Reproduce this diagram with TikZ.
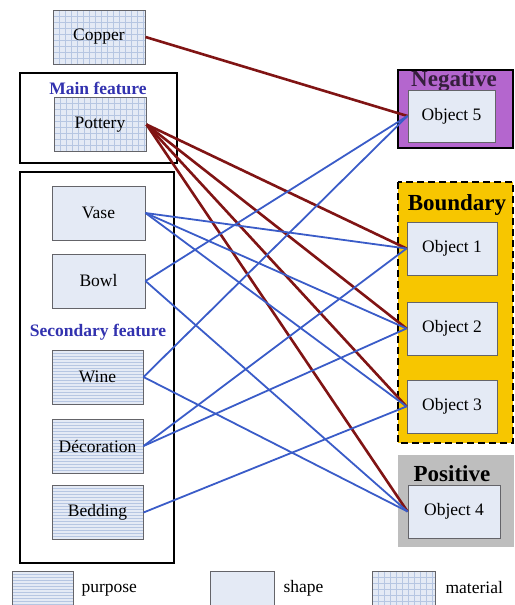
\documentclass[tikz,border=0pt]{standalone}
\usepackage{fontspec}
\setmainfont{Liberation Serif}
\usetikzlibrary{positioning}
\definecolor{boxfill}{RGB}{228,234,245}
\definecolor{boxline}{RGB}{100,100,105}
\definecolor{gridc}{RGB}{182,198,226}
\definecolor{linkred}{RGB}{128,20,20}
\definecolor{linkblue}{RGB}{58,92,200}
\definecolor{titleblue}{RGB}{50,50,175}
\definecolor{negfill}{RGB}{180,102,206}
\definecolor{bndfill}{RGB}{247,198,0}
\definecolor{posfill}{RGB}{190,190,190}
\tikzset{
  box/.style={draw=boxline,fill=boxfill,line width=1pt,minimum width=92pt,minimum height=54pt,
    inner sep=0pt,font=\fontsize{17.5}{19}\selectfont},
  material/.style={box,path picture={
      \foreach \k in {0,6,...,120} {
        \draw[gridc,line width=0.5pt] ([xshift=\k pt]path picture bounding box.south west) -- ++(0,80pt);
        \draw[gridc,line width=0.5pt] ([yshift=\k pt]path picture bounding box.south west) -- ++(120pt,0);
      }}},
  purpose/.style={box,path picture={
      \foreach \k in {0,3,...,80}
        \draw[gridc,line width=0.4pt] ([yshift=\k pt]path picture bounding box.south west) -- ++(120pt,0);
      }},
  frame/.style={draw=black,line width=2pt},
  feature/.style={text=titleblue,font=\bfseries\fontsize{17.5}{19}\selectfont},
  grouplabel/.style={font=\bfseries\fontsize{23}{25}\selectfont},
  legendtext/.style={anchor=west,font=\fontsize{17.5}{19}\selectfont},
  redlink/.style={linkred,line width=2.6pt},
  bluelink/.style={linkblue,line width=1.8pt},
}
\begin{document}
\begin{tikzpicture}[x=1pt,y=-1pt]
\useasboundingbox (0,0) rectangle (514,605);

% frames
\draw[frame] (20,73) rectangle (177,163);
\draw[frame] (20,172) rectangle (174,563);
\draw[frame,fill=negfill] (398,70) rectangle (513,148);
\draw[frame,fill=bndfill,dashed,dash pattern=on 7pt off 4pt] (398,182) rectangle (513,443);
\fill[posfill] (398,455) rectangle (514,547);

\node[feature] (mainlab) at (98,88) {Main feature};
\node[feature] (seclab) at (98,332) {Secondary feature};
\node[grouplabel,text=black!70!negfill] (neglab) at (454,81) {Negative};
\node[grouplabel] (bndlab) at (457,205) {Boundary};
\node[grouplabel] (poslab) at (452,474) {Positive};

% features
\node[material] (copper) at (99,37) {Copper};
\node[material] (pottery) at (100,124.5) {Pottery};
\node[box,minimum width=93pt] (vase) at (98.5,213) {Vase};
\node[box,minimum width=93pt] (bowl) at (98.5,281) {Bowl};
\node[purpose,minimum width=91pt] (wine) at (97.5,377) {Wine};
\node[purpose,minimum width=91pt] (deco) at (97.5,446) {Décoration};
\node[purpose,minimum width=91pt] (bedding) at (97.5,512.5) {Bedding};

% objects
\node[box,minimum width=87pt,minimum height=52pt] (obj5) at (451.5,116) {Object 5};
\node[box,minimum width=90pt,minimum height=53pt] (obj1) at (452,248.5) {Object 1};
\node[box,minimum width=90pt,minimum height=53pt] (obj2) at (452,328.5) {Object 2};
\node[box,minimum width=90pt,minimum height=53pt] (obj3) at (452,406.5) {Object 3};
\node[box,minimum width=92pt,minimum height=53pt] (obj4) at (454,511.5) {Object 4};

% links
\draw[redlink] (copper.east) -- (obj5.west);
\foreach \t in {obj1,obj2,obj3,obj4} \draw[redlink] (pottery.east) -- (\t.west);
\foreach \t in {obj1,obj2,obj3} \draw[bluelink] (vase.east) -- (\t.west);
\foreach \t in {obj5,obj4} {
  \draw[bluelink] (bowl.east) -- (\t.west);
  \draw[bluelink] (wine.east) -- (\t.west);
}
\foreach \t in {obj1,obj2} \draw[bluelink] (deco.east) -- (\t.west);
\draw[bluelink] (bedding.east) -- (obj3.west);

% legend
\node[purpose,minimum width=61pt,minimum height=36pt,anchor=north west] (legpurpose) at (12,571) {};
\node[legendtext] (legpurposetxt) at (78,590) {purpose};
\node[box,minimum width=64pt,minimum height=36pt,anchor=north west] (legshape) at (210,571) {};
\node[legendtext] (legshapetxt) at (280,588) {shape};
\node[material,minimum width=63pt,minimum height=36pt,anchor=north west] (legmaterial) at (372,571) {};
\node[legendtext] (legmaterialtxt) at (442,588) {material};
\end{tikzpicture}
\end{document}
